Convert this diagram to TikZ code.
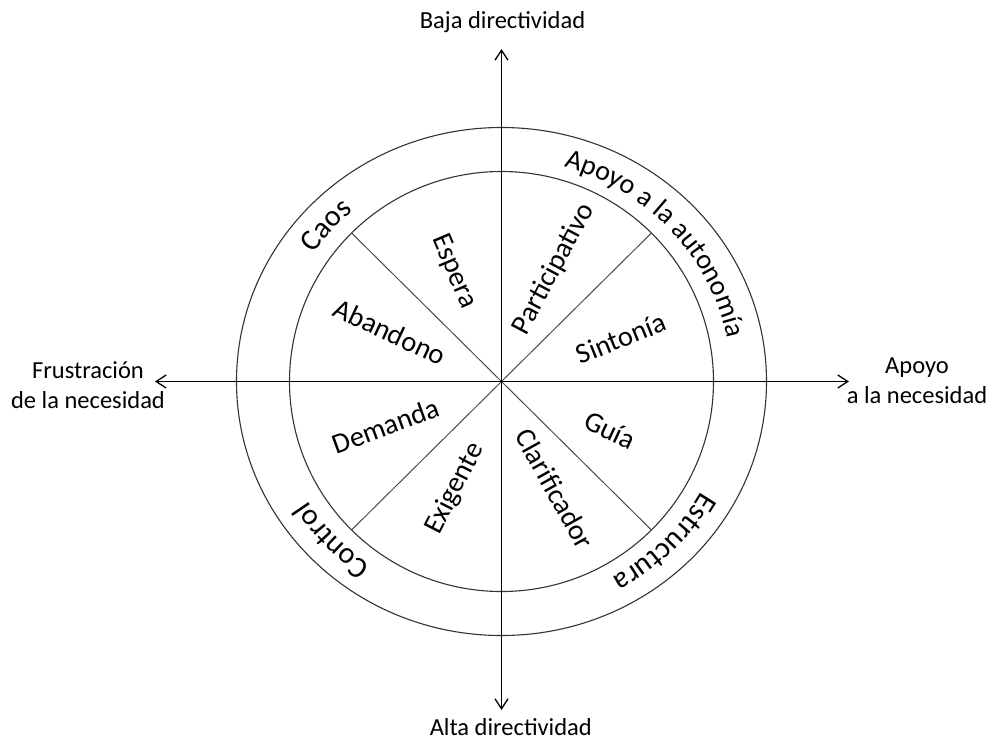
\documentclass[tikz,border=0pt]{standalone}
\usepackage{fontspec}
\setmainfont{Carlito}
\usetikzlibrary{arrows.meta}
\usetikzlibrary{decorations.text}

\newcommand\axisfont{\fontsize{24.5}{30}\selectfont}
\newcommand\petalfont{\fontsize{28.5}{28.5}\selectfont}

\begin{document}
\begin{tikzpicture}[
  x=1pt, y=1pt,
  >={Straight Barb[length=10pt,width=13pt]},
  axis/.style={line width=1.3pt},
  rim/.style={line width=1.1pt, black!80},
  spoke/.style={line width=1pt, black!70},
  axlabel/.style={font=\axisfont, align=center, inner sep=0pt},
  petal/.style={font=\petalfont, inner sep=0pt},
  ringtext/.style 2 args={decorate, decoration={text along path, text align=center,
    text={|\fontsize{#1}{#1}\selectfont|#2}}},
]

\useasboundingbox (-501.5,-358.5) rectangle (490.5,381.5);

\coordinate (o) at (0,0);
\coordinate (north) at (0,332.5);
\coordinate (south) at (0,-328.5);
\coordinate (west) at (-346.5,0);
\coordinate (east) at (347.5,0);

% rings
\draw [rim] (o) ellipse [x radius=265pt, y radius=254pt];
\draw [rim] (o) ellipse [x radius=212pt, y radius=210pt];

% sectors
\foreach \a in {45,135,225,315} {
  \coordinate (s\a) at (\a:212pt and 210pt);
  \draw [spoke] (o) -- (s\a);
}

% axes
\draw [axis,<->] (south) -- (north);
\draw [axis,<->] (west) -- (east);

\node [axlabel, anchor=base] (baja) at (1,353.2) {Baja directividad};
\node [axlabel, anchor=base] (alta) at (9.3,-353.5) {Alta directividad};
\node [axlabel] (frus) at (-413.5,-3.5) {Frustración\\de la necesidad};
\node [axlabel] (apoyo) at (415.5,0.5) {Apoyo\\a la necesidad};

% styles inside the wheel
\foreach \nm/\ang/\rad/\rot/\txt in {sin/20/127/22/Sintonía, par/65/124/62/Participativo,
    esp/113.5/120/-67/Espera, aba/156/122/-25/Abandono, dem/201/124/20/Demanda,
    exi/246.5/117/63/Exigente, cla/296.5/120/-61/Clarificador, gui/336/119/-25/Guía}
  \node [petal, rotate=\rot] (\nm) at (\ang:\rad) {\txt};

% outer ring words
\path [ringtext={28}{Apoyo a la autonomía}] (87.5:230pt and 223pt)
  arc [start angle=87.5, end angle=-2.5, x radius=230pt, y radius=223pt];
\path [ringtext={30}{Caos}] (183:230pt and 223pt)
  arc [start angle=183, end angle=93, x radius=230pt, y radius=223pt];
\path [ringtext={30}{Control}] (268.5:230pt and 223pt)
  arc [start angle=268.5, end angle=178.5, x radius=230pt, y radius=223pt];
\path [ringtext={30}{Estructura}] (360:230pt and 223pt)
  arc [start angle=360, end angle=270, x radius=230pt, y radius=223pt];

\end{tikzpicture}
\end{document}
